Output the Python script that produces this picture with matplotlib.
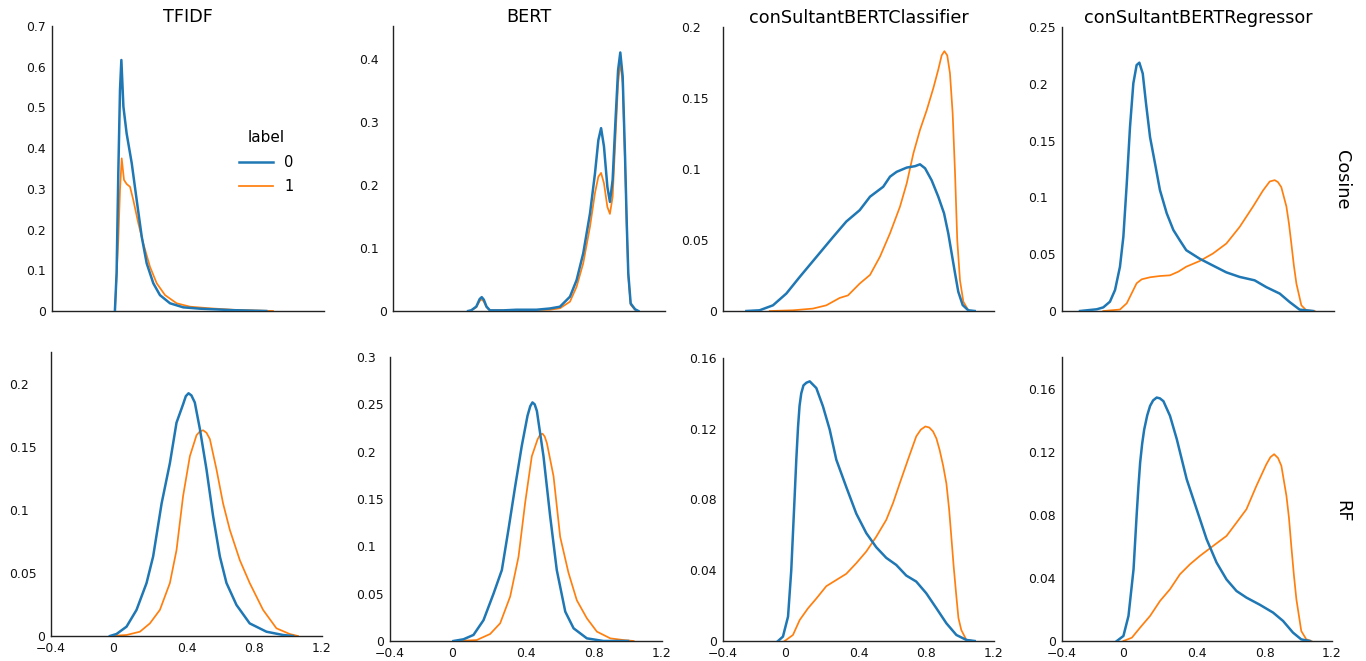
import matplotlib
matplotlib.use("Agg")
import matplotlib.pyplot as plt
from matplotlib.lines import Line2D
from matplotlib.ticker import FixedLocator, FuncFormatter
from matplotlib.transforms import ScaledTranslation

plt.rcParams['font.family'] = ['DejaVu Sans']

# ---------------- data ----------------
models = ['TFIDF', 'BERT', 'conSultantBERTClassifier', 'conSultantBERTRegressor']
metrics = ['Cosine', 'RF']
labels = ['0', '1']
xticks = [-0.4, 0, 0.4, 0.8, 1.2]

# TFIDF / Cosine
tfidf_cos_x0 = [-0.030, -0.020, -0.010, 0.0, 0.008, 0.020, 0.039, 0.069, 0.098, 0.128, 0.157, 0.196, 0.235, 0.294, 0.372, 0.47, 0.666, 0.86]
tfidf_cos_y0 = [0, 0.093, 0.338, 0.543, 0.6165, 0.502, 0.436, 0.363, 0.273, 0.182, 0.117, 0.068, 0.039, 0.019, 0.009, 0.0057, 0.002, 0]
tfidf_cos_x1 = [-0.030, -0.010, 0.0, 0.010, 0.0235, 0.039, 0.059, 0.078, 0.108, 0.137, 0.176, 0.216, 0.265, 0.333, 0.412, 0.529, 0.666, 0.90]
tfidf_cos_y1 = [0, 0.174, 0.297, 0.375, 0.322, 0.312, 0.305, 0.273, 0.215, 0.166, 0.109, 0.068, 0.039, 0.019, 0.0106, 0.0066, 0.003, 0]

# TFIDF / RF
tfidf_rf_x0 = [-0.052, -0.013, 0.046, 0.105, 0.164, 0.203, 0.253, 0.302, 0.341, 0.380, 0.396, 0.412, 0.429, 0.449, 0.479, 0.518, 0.557, 0.597, 0.636, 0.695, 0.773, 0.872, 0.970, 1.029]
tfidf_rf_y0 = [0, 0.0016, 0.0074, 0.0207, 0.0419, 0.063, 0.105, 0.137, 0.169, 0.1836, 0.190, 0.1923, 0.1906, 0.185, 0.164, 0.132, 0.095, 0.063, 0.042, 0.0246, 0.010, 0.0034, 0.0008, 0]
tfidf_rf_x1 = [-0.052, 0.046, 0.125, 0.184, 0.243, 0.302, 0.341, 0.380, 0.420, 0.459, 0.478, 0.498, 0.518, 0.538, 0.577, 0.616, 0.656, 0.715, 0.773, 0.852, 0.931, 1.009, 1.058]
tfidf_rf_y1 = [0, 0.0008, 0.0034, 0.010, 0.0207, 0.042, 0.068, 0.111, 0.1425, 0.159, 0.162, 0.163, 0.161, 0.156, 0.132, 0.105, 0.084, 0.060, 0.042, 0.0207, 0.0061, 0.0016, 0]

# BERT / Cosine
bert_cos_x0 = [0.042, 0.06, 0.09, 0.11, 0.122, 0.134, 0.15, 0.17, 0.248, 0.326, 0.444, 0.523, 0.582, 0.641, 0.680, 0.719, 0.759, 0.788, 0.808, 0.824, 0.841, 0.861, 0.876, 0.892, 0.908, 0.924, 0.937, 0.951, 0.965, 0.975, 0.984, 0.998, 1.024, 1.043]
bert_cos_y0 = [0, 0.001, 0.007, 0.019, 0.022, 0.018, 0.007, 0.001, 0.001, 0.002, 0.002, 0.004, 0.0068, 0.0227, 0.049, 0.0915, 0.155, 0.218, 0.271, 0.290, 0.261, 0.197, 0.173, 0.208, 0.298, 0.382, 0.410, 0.372, 0.245, 0.139, 0.060, 0.012, 0.0027, 0]
bert_cos_x1 = [0.042, 0.06, 0.09, 0.11, 0.122, 0.134, 0.15, 0.17, 0.326, 0.523, 0.582, 0.641, 0.680, 0.719, 0.759, 0.788, 0.808, 0.824, 0.841, 0.861, 0.876, 0.892, 0.908, 0.924, 0.937, 0.951, 0.965, 0.975, 0.984, 0.998, 1.024, 1.043]
bert_cos_y1 = [0, 0.001, 0.006, 0.016, 0.0185, 0.015, 0.006, 0.001, 0.001, 0.002, 0.0043, 0.0148, 0.0385, 0.0757, 0.134, 0.187, 0.213, 0.219, 0.2025, 0.165, 0.154, 0.181, 0.271, 0.361, 0.395, 0.361, 0.234, 0.134, 0.055, 0.010, 0.002, 0]

# BERT / RF
bert_rf_x0 = [-0.027, 0.032, 0.091, 0.150, 0.209, 0.258, 0.297, 0.336, 0.375, 0.409, 0.425, 0.438, 0.451, 0.464, 0.503, 0.542, 0.581, 0.631, 0.680, 0.758, 0.856, 1.0]
bert_rf_y0 = [0, 0.0018, 0.0064, 0.022, 0.050, 0.075, 0.118, 0.163, 0.206, 0.238, 0.248, 0.252, 0.250, 0.243, 0.195, 0.132, 0.075, 0.031, 0.0134, 0.0028, 0, 0]
bert_rf_x1 = [-0.007, 0.110, 0.189, 0.248, 0.307, 0.356, 0.395, 0.434, 0.468, 0.483, 0.497, 0.510, 0.523, 0.562, 0.601, 0.650, 0.699, 0.758, 0.817, 0.896, 0.974, 1.033]
bert_rf_y1 = [0, 0.001, 0.0074, 0.0187, 0.047, 0.089, 0.146, 0.195, 0.213, 0.218, 0.219, 0.216, 0.209, 0.174, 0.110, 0.072, 0.043, 0.024, 0.0099, 0.0028, 0.001, 0]

# conSultantBERTClassifier / Cosine
clf_cos_x0 = [-0.262, -0.184, -0.105, -0.026, 0.053, 0.151, 0.249, 0.328, 0.407, 0.468, 0.507, 0.546, 0.586, 0.625, 0.685, 0.734, 0.763, 0.793, 0.832, 0.871, 0.905, 0.930, 0.950, 0.970, 0.989, 1.015, 1.048, 1.086]
clf_cos_y0 = [0, 0.0005, 0.004, 0.0123, 0.024, 0.038, 0.052, 0.063, 0.071, 0.0805, 0.084, 0.0875, 0.0946, 0.098, 0.101, 0.102, 0.1033, 0.1005, 0.092, 0.0805, 0.0688, 0.0547, 0.0406, 0.0265, 0.0136, 0.0042, 0.0005, 0]
clf_cos_x1 = [-0.124, 0.013, 0.131, 0.210, 0.289, 0.338, 0.407, 0.468, 0.527, 0.586, 0.645, 0.685, 0.724, 0.763, 0.803, 0.842, 0.871, 0.891, 0.907, 0.924, 0.940, 0.956, 0.970, 0.983, 0.999, 1.019, 1.048, 1.066]
clf_cos_y1 = [0, 0.0005, 0.0017, 0.004, 0.0092, 0.011, 0.0193, 0.0254, 0.0383, 0.0547, 0.0735, 0.090, 0.111, 0.1275, 0.1415, 0.157, 0.170, 0.180, 0.183, 0.180, 0.1674, 0.139, 0.097, 0.050, 0.0218, 0.0066, 0.0005, 0]

# conSultantBERTClassifier / RF
clf_rf_x0 = [-0.075, -0.046, -0.016, 0.003, 0.023, 0.033, 0.043, 0.052, 0.062, 0.075, 0.092, 0.112, 0.151, 0.190, 0.230, 0.269, 0.328, 0.387, 0.446, 0.505, 0.564, 0.623, 0.682, 0.741, 0.800, 0.860, 0.919, 0.978, 1.037, 1.086]
clf_rf_y0 = [0, 0.0025, 0.0138, 0.040, 0.0817, 0.103, 0.121, 0.133, 0.140, 0.1445, 0.146, 0.1468, 0.143, 0.1327, 0.1195, 0.1025, 0.087, 0.072, 0.061, 0.053, 0.047, 0.043, 0.037, 0.0336, 0.027, 0.0185, 0.010, 0.0034, 0.0006, 0]
clf_rf_x1 = [-0.036, 0.013, 0.053, 0.102, 0.151, 0.210, 0.269, 0.328, 0.387, 0.446, 0.505, 0.564, 0.604, 0.643, 0.692, 0.741, 0.768, 0.795, 0.818, 0.840, 0.860, 0.879, 0.900, 0.919, 0.935, 0.948, 0.962, 0.978, 0.990, 1.007, 1.037, 1.076]
clf_rf_y1 = [0, 0.0034, 0.0119, 0.0185, 0.024, 0.031, 0.0345, 0.038, 0.044, 0.0506, 0.059, 0.0685, 0.078, 0.089, 0.1025, 0.1157, 0.1195, 0.1213, 0.1207, 0.1185, 0.1145, 0.108, 0.099, 0.089, 0.0745, 0.059, 0.042, 0.025, 0.013, 0.0062, 0.0006, 0]

# conSultantBERTRegressor / Cosine
reg_cos_x0 = [-0.294, -0.196, -0.157, -0.118, -0.088, -0.059, -0.039, -0.019, 0.0, 0.0196, 0.039, 0.055, 0.075, 0.094, 0.118, 0.147, 0.176, 0.216, 0.255, 0.294, 0.331, 0.410, 0.488, 0.567, 0.645, 0.733, 0.802, 0.881, 0.939, 0.998, 1.077]
reg_cos_y0 = [0, 0.0015, 0.0032, 0.0082, 0.0185, 0.039, 0.0654, 0.1124, 0.162, 0.2004, 0.2165, 0.2186, 0.209, 0.183, 0.153, 0.130, 0.1065, 0.086, 0.0713, 0.062, 0.0535, 0.046, 0.040, 0.034, 0.030, 0.027, 0.021, 0.0153, 0.0079, 0.0012, 0]
reg_cos_x1 = [-0.157, -0.059, -0.019, 0.010, 0.039, 0.069, 0.118, 0.176, 0.235, 0.284, 0.331, 0.410, 0.488, 0.567, 0.645, 0.724, 0.782, 0.822, 0.851, 0.870, 0.890, 0.920, 0.935, 0.949, 0.964, 0.979, 1.008, 1.037, 1.086]
reg_cos_y1 = [0, 0.0013, 0.0068, 0.0156, 0.0244, 0.0279, 0.0297, 0.0308, 0.0314, 0.0346, 0.039, 0.044, 0.0506, 0.0594, 0.074, 0.092, 0.106, 0.114, 0.1152, 0.1135, 0.109, 0.092, 0.077, 0.0594, 0.040, 0.024, 0.005, 0.0006, 0]

# conSultantBERTRegressor / RF
reg_rf_x0 = [-0.075, -0.036, -0.006, 0.024, 0.043, 0.053, 0.063, 0.075, 0.087, 0.105, 0.122, 0.140, 0.161, 0.180, 0.201, 0.240, 0.280, 0.339, 0.398, 0.457, 0.516, 0.575, 0.634, 0.693, 0.772, 0.851, 0.910, 0.969, 1.018, 1.068]
reg_rf_y0 = [0, 0.0032, 0.0159, 0.0455, 0.081, 0.098, 0.113, 0.125, 0.134, 0.143, 0.149, 0.1525, 0.1543, 0.1538, 0.152, 0.1427, 0.128, 0.1025, 0.0835, 0.0645, 0.0497, 0.039, 0.0317, 0.0275, 0.023, 0.018, 0.0127, 0.0053, 0.001, 0]
reg_rf_x1 = [-0.036, 0.014, 0.063, 0.122, 0.181, 0.240, 0.299, 0.358, 0.418, 0.496, 0.575, 0.634, 0.693, 0.752, 0.811, 0.835, 0.857, 0.880, 0.900, 0.930, 0.945, 0.959, 0.974, 0.989, 1.018, 1.048, 1.078]
reg_rf_y1 = [0, 0.0021, 0.0085, 0.0159, 0.0254, 0.0328, 0.0423, 0.0486, 0.054, 0.0603, 0.0666, 0.075, 0.0835, 0.0983, 0.112, 0.1165, 0.1184, 0.116, 0.111, 0.092, 0.078, 0.060, 0.042, 0.0264, 0.0063, 0.001, 0]

yticks_tfidf_cos = [0, 0.1, 0.2, 0.3, 0.4, 0.5, 0.6, 0.7]
yticks_tfidf_rf = [0, 0.05, 0.1, 0.15, 0.2]
yticks_bert_cos = [0, 0.1, 0.2, 0.3, 0.4]
yticks_bert_rf = [0, 0.05, 0.1, 0.15, 0.2, 0.25, 0.3]
yticks_clf_cos = [0, 0.05, 0.1, 0.15, 0.2]
yticks_clf_rf = [0, 0.04, 0.08, 0.12, 0.16]
yticks_reg_cos = [0, 0.05, 0.1, 0.15, 0.2, 0.25]
yticks_reg_rf = [0, 0.04, 0.08, 0.12, 0.16]

curves = {
    (0, 0): (tfidf_cos_x0, tfidf_cos_y0, tfidf_cos_x1, tfidf_cos_y1),
    (1, 0): (tfidf_rf_x0, tfidf_rf_y0, tfidf_rf_x1, tfidf_rf_y1),
    (0, 1): (bert_cos_x0, bert_cos_y0, bert_cos_x1, bert_cos_y1),
    (1, 1): (bert_rf_x0, bert_rf_y0, bert_rf_x1, bert_rf_y1),
    (0, 2): (clf_cos_x0, clf_cos_y0, clf_cos_x1, clf_cos_y1),
    (1, 2): (clf_rf_x0, clf_rf_y0, clf_rf_x1, clf_rf_y1),
    (0, 3): (reg_cos_x0, reg_cos_y0, reg_cos_x1, reg_cos_y1),
    (1, 3): (reg_rf_x0, reg_rf_y0, reg_rf_x1, reg_rf_y1),
}
yticks = {
    (0, 0): yticks_tfidf_cos, (1, 0): yticks_tfidf_rf,
    (0, 1): yticks_bert_cos, (1, 1): yticks_bert_rf,
    (0, 2): yticks_clf_cos, (1, 2): yticks_clf_rf,
    (0, 3): yticks_reg_cos, (1, 3): yticks_reg_rf,
}

# ---------------- layout / style ----------------
W, H = 1366, 661
BLUE, ORANGE = '#1f77b4', '#ff7f0e'
TICK_FS = 8.9
TITLE_FS = 12.7

# axes boxes in pixels: left, right, top, bottom
boxes = {
    (0, 0): (52, 324, 26, 311), (0, 1): (393, 665, 26, 311),
    (0, 2): (723, 994, 27, 311), (0, 3): (1062, 1334, 27, 311),
    (1, 0): (51, 322, 352, 636), (1, 1): (390, 662, 357, 641),
    (1, 2): (723, 994, 358, 641), (1, 3): (1062, 1332, 357, 641),
}
ytop = {
    (0, 0): 0.7, (1, 0): 0.225, (0, 1): 0.452, (1, 1): 0.3,
    (0, 2): 0.2, (1, 2): 0.16, (0, 3): 0.25, (1, 3): 0.18,
}
label_template = {
    (0, 0): '0.0', (1, 0): '0.000', (0, 1): '0.00', (1, 1): '0.00',
    (0, 2): '0.000', (1, 2): '0.00', (0, 3): '0.00', (1, 3): '0.00',
}


def fmt(v, pos=None):
    s = ('%.3f' % v).rstrip('0').rstrip('.')
    if s.startswith('-'):
        s = '\u2212' + s[1:]
    if s == '\u22120':
        s = '0'
    return s


fig = plt.figure(figsize=(W / 100, H / 100), dpi=100)
axes = {}
for key, (l, r, t, b) in boxes.items():
    ax = fig.add_axes([l / W, 1 - b / H, (r - l) / W, (b - t) / H])
    axes[key] = ax
    x0, y0, x1, y1 = curves[key]
    ax.plot(x1, y1, color=ORANGE, lw=1.25, solid_joinstyle='round', zorder=2)
    ax.plot(x0, y0, color=BLUE, lw=1.8, solid_joinstyle='round', zorder=3)
    ax.set_xlim(-0.4, 1.2)
    ax.set_ylim(0, ytop[key])
    ax.xaxis.set_major_locator(FixedLocator(xticks))
    ax.yaxis.set_major_locator(FixedLocator(yticks[key]))
    ax.xaxis.set_major_formatter(FuncFormatter(fmt))
    ax.yaxis.set_major_formatter(FuncFormatter(fmt))
    for s in ['top', 'right']:
        ax.spines[s].set_visible(False)
    for s in ['left', 'bottom']:
        ax.spines[s].set_linewidth(1.0)
        ax.spines[s].set_color('#222222')
    ax.tick_params(length=0, pad=4.5, labelsize=TICK_FS, colors='#111111')
    ax.set_facecolor('white')
    if key[0] == 0:
        ax.tick_params(labelbottom=False)
        ax.set_title(models[key[1]], fontsize=TITLE_FS, pad=3)

# row labels on the right
fig.text(1342 / W, 1 - 180 / H, metrics[0], rotation=270, ha='center', va='center', fontsize=TITLE_FS)
fig.text(1342 / W, 1 - 511 / H, metrics[1], rotation=270, ha='center', va='center', fontsize=TITLE_FS)

# legend
handles = [Line2D([], [], color=BLUE, lw=1.8), Line2D([], [], color=ORANGE, lw=1.25)]
leg = axes[(0, 0)].legend(handles, labels, title='label', loc='upper left',
                          bbox_to_anchor=(226 / W, 1 - 117 / H), bbox_transform=fig.transFigure,
                          frameon=False, fontsize=10.5, title_fontsize=11,
                          handlelength=2.3, handletextpad=0.8, labelspacing=0.65)

# tick label alignment tweaks
fig.canvas.draw()
renderer = fig.canvas.get_renderer()
for key, ax in axes.items():
    tt = ax.text(0, 0, label_template[key], fontsize=TICK_FS, transform=ax.transAxes)
    w_full = tt.get_window_extent(renderer).width
    tt.remove()
    axw = ax.get_window_extent(renderer).width
    for lab in ax.get_yticklabels():
        if lab.get_text() != '0':
            lab.set_ha('left')
            lab.set_x(-w_full / axw)
    if key[0] == 1:
        t1 = ax.text(0, 0, '0.0', fontsize=TICK_FS, transform=ax.transAxes)
        t2 = ax.text(0, 0, '0', fontsize=TICK_FS, transform=ax.transAxes)
        d = (t1.get_window_extent(renderer).width - t2.get_window_extent(renderer).width) / 2
        t1.remove()
        t2.remove()
        for lab in ax.get_xticklabels():
            if lab.get_text() == '0':
                lab.set_transform(lab.get_transform() + ScaledTranslation(-d / 100, 0, fig.dpi_scale_trans))

fig.savefig('out.png', dpi=100, facecolor='white')
